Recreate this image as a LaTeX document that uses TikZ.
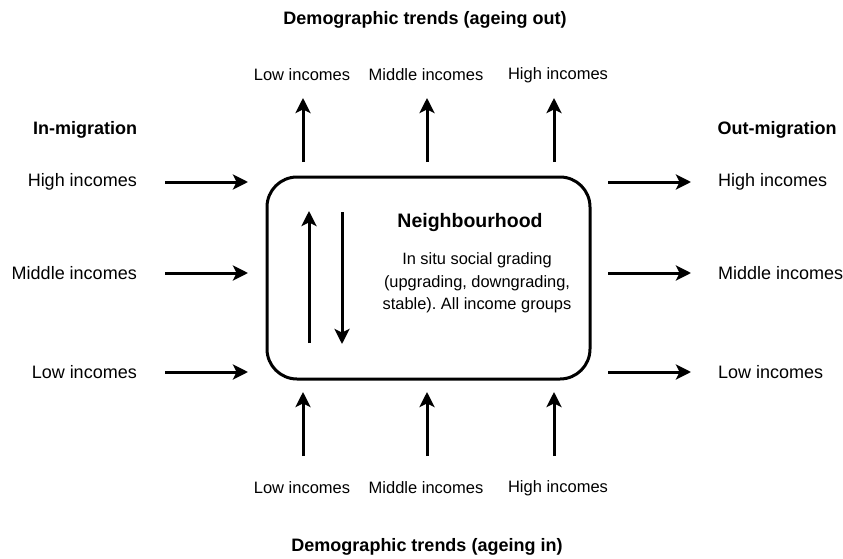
\documentclass[tikz,border=0pt]{standalone}
\usepackage{fontspec}
\setmainfont{Liberation Sans}
\usetikzlibrary{arrows.meta}
\begin{document}
\frenchspacing
\begin{tikzpicture}[x=1pt,y=-1pt,
  lbl/.style={inner sep=0pt,font=\fontsize{16.5}{19}\selectfont},
  side/.style={inner sep=0pt,font=\fontsize{18}{21}\selectfont},
  ttl/.style={inner sep=0pt,font=\fontsize{18}{21}\selectfont\bfseries},
  arr/.style={line width=3pt,-{Stealth[length=15pt,width=15pt,inset=3.5pt]}},
  hood/.style={draw,line width=3pt,rounded corners=30pt,minimum width=323pt,minimum height=202pt,inner sep=0pt}]
\useasboundingbox (0,0) rectangle (843,559);
% central box
\node[hood] (box) at (428.5,278) {};
\node[inner sep=0pt,font=\fontsize{19.5}{22}\selectfont\bfseries] (nb) at (470,222) {Neighbourhood};
\node[inner sep=0pt,align=center,font=\fontsize{16.4}{22.5}\selectfont] (body) at (477,283) {In situ social grading\\(upgrading, downgrading,\\stable). All income groups};
\coordinate (ua) at (309,343); \coordinate (ub) at (309,211);
\coordinate (da) at (342,212); \coordinate (db) at (342,344);
\draw[arr] (ua) -- (ub);
\draw[arr] (da) -- (db);
% titles
\node[ttl] (ttop) at (425,20) {Demographic trends (ageing out)};
\node[ttl] (tbot) at (427,547) {Demographic trends (ageing in)};
\node[ttl] (tin) at (85,130) {In-migration};
\node[ttl] (tout) at (777,130) {Out-migration};
% top
\node[lbl] (tl) at (302,75) {Low incomes};
\node[lbl] (tm) at (426,75) {Middle incomes};
\node[lbl] (th) at (558,75) {High incomes};
\foreach \x/\n in {303/a,427/b,554/c}{
  \coordinate (ts\n) at (\x,162); \coordinate (te\n) at (\x,98);
  \draw[arr] (ts\n) -- (te\n);
  \coordinate (bs\n) at (\x,456); \coordinate (be\n) at (\x,392);
  \draw[arr] (bs\n) -- (be\n);
}
% bottom
\node[lbl] (bl) at (302,488) {Low incomes};
\node[lbl] (bm) at (426,488) {Middle incomes};
\node[lbl] (bh) at (558,488) {High incomes};
% left
\node[side,anchor=east] (lh) at (137,182) {High incomes};
\node[side,anchor=east] (lm) at (137,273) {Middle incomes};
\node[side,anchor=east] (ll) at (137,372) {Low incomes};
% right
\node[side,anchor=west] (rh) at (718,182) {High incomes};
\node[side,anchor=west] (rm) at (718,273) {Middle incomes};
\node[side,anchor=west] (rl) at (718,372) {Low incomes};
\foreach \y/\n in {182/h,273/m,372/l}{
  \coordinate (ls\n) at (165,\y); \coordinate (le\n) at (248,\y);
  \draw[arr] (ls\n) -- (le\n);
  \coordinate (rs\n) at (608,\y); \coordinate (re\n) at (691,\y);
  \draw[arr] (rs\n) -- (re\n);
}
\end{tikzpicture}
\end{document}
